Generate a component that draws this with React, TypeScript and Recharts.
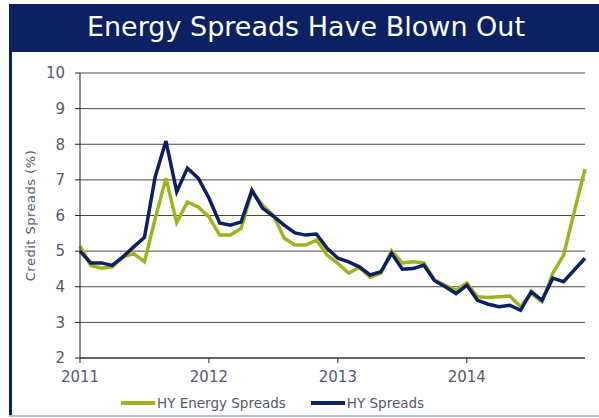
import React from 'react';
import { LineChart, Line, XAxis, YAxis, CartesianGrid, Legend } from 'recharts';

// monthly observations, Jan 2011 - Dec 2014
const months = [
  '2011-01', '2011-02', '2011-03', '2011-04', '2011-05', '2011-06', '2011-07', '2011-08', '2011-09', '2011-10', '2011-11', '2011-12',
  '2012-01', '2012-02', '2012-03', '2012-04', '2012-05', '2012-06', '2012-07', '2012-08', '2012-09', '2012-10', '2012-11', '2012-12',
  '2013-01', '2013-02', '2013-03', '2013-04', '2013-05', '2013-06', '2013-07', '2013-08', '2013-09', '2013-10', '2013-11', '2013-12',
  '2014-01', '2014-02', '2014-03', '2014-04', '2014-05', '2014-06', '2014-07', '2014-08', '2014-09', '2014-10', '2014-11', '2014-12',
];

const hyEnergy = [
  5.14, 4.6, 4.52, 4.56, 4.84, 4.93, 4.7, 5.92, 7.05, 5.8, 6.38, 6.24,
  5.96, 5.45, 5.45, 5.64, 6.67, 6.29, 6.0, 5.37, 5.17, 5.17, 5.31, 4.89,
  4.66, 4.38, 4.55, 4.27, 4.38, 5.01, 4.67, 4.7, 4.67, 4.19, 4.04, 3.9,
  4.11, 3.72, 3.7, 3.72, 3.74, 3.44, 3.81, 3.58, 4.38, 4.88, 6.1, 7.3,
];

const hySpreads = [
  5.0, 4.67, 4.67, 4.6, 4.84, 5.12, 5.39, 7.09, 8.09, 6.67, 7.33, 7.05,
  6.49, 5.79, 5.73, 5.82, 6.71, 6.2, 5.98, 5.73, 5.51, 5.45, 5.48, 5.08,
  4.8, 4.7, 4.56, 4.33, 4.42, 4.94, 4.49, 4.51, 4.61, 4.17, 4.0, 3.81,
  4.04, 3.62, 3.51, 3.44, 3.48, 3.34, 3.86, 3.62, 4.24, 4.14, 4.47, 4.8,
];

const yearTicks = ['2011-01', '2012-01', '2013-01', '2014-01'];
const yTicks = [2, 3, 4, 5, 6, 7, 8, 9, 10];

const NAVY = '#0b2161';
const GREEN = '#9db41f';
const TEXT = '#555a66';
const FONT = '"DejaVu Sans", Verdana, sans-serif';

const data = months.map((m, i) => ({ month: m, energy: hyEnergy[i], hy: hySpreads[i] }));

const renderLegend = (props: any) => {
  const { payload } = props;
  return (
    <div style={{ display: 'flex', alignItems: 'center', fontFamily: FONT, fontSize: 13.5, color: TEXT }}>
      {payload.map((entry: any, i: number) => (
        <div key={`leg-${i}`} style={{ display: 'flex', alignItems: 'center', marginRight: 25 }}>
          <div style={{ width: 34, height: 4, background: entry.color, marginRight: 2 }}></div>
          <span>{entry.value}</span>
        </div>
      ))}
    </div>
  );
};

export default function App() {
  return (
    <div style={{ position: 'absolute', left: 0, top: 0, width: 599, height: 418, background: '#fff', overflow: 'hidden' }}>
      {/* frame + title bar */}
      <div style={{ position: 'absolute', left: 9, top: 4, width: 600, height: 48, background: NAVY, borderTopLeftRadius: 4 }}></div>
      <div style={{ position: 'absolute', left: 9, top: 4, width: 3, height: 412, background: NAVY }}></div>
      <div style={{ position: 'absolute', left: 9, top: 415, width: 590, height: 2, background: '#b4c0d4' }}></div>
      <div
        style={{
          position: 'absolute', left: 9, top: 10, width: 594, textAlign: 'center',
          color: '#fff', fontFamily: FONT, fontSize: 27, lineHeight: '34px',
        }}
      >
        Energy Spreads Have Blown Out
      </div>

      <div style={{ position: 'absolute', left: 0, top: 0 }}>
        <LineChart width={599} height={418} data={data} margin={{ top: 73, right: 14, bottom: 0, left: 0 }}>
          <CartesianGrid vertical={false} stroke="#4a4a4a" strokeWidth={1} />
          <XAxis
            dataKey="month"
            ticks={yearTicks}
            interval={0}
            tickFormatter={(v: string) => v.slice(0, 4)}
            height={40}
            tickSize={5}
            tickMargin={8}
            stroke="#222"
            tick={{ fill: TEXT, fontSize: 15, fontFamily: FONT }}
          />
          <YAxis
            type="number"
            domain={[2, 10]}
            ticks={yTicks}
            interval={0}
            width={80}
            tickSize={5}
            tickMargin={10}
            stroke="#222"
            tick={{ fill: TEXT, fontSize: 15, fontFamily: FONT }}
            label={{
              value: 'Credit Spreads (%)', angle: -90, position: 'insideLeft', offset: 30,
              style: { textAnchor: 'middle', fill: TEXT, fontSize: 13, fontFamily: FONT, letterSpacing: 0.5 },
            }}
          />
          <Legend
            content={renderLegend}
            wrapperStyle={{ position: 'absolute', left: 121, top: 395, width: 360, height: 20 }}
          />
          <Line
            type="linear"
            dataKey="energy"
            name="HY Energy Spreads"
            stroke={GREEN}
            strokeWidth={3.5}
            dot={false}
            isAnimationActive={false}
          />
          <Line
            type="linear"
            dataKey="hy"
            name="HY Spreads"
            stroke={NAVY}
            strokeWidth={3.5}
            dot={false}
            isAnimationActive={false}
          />
        </LineChart>
      </div>
    </div>
  );
}
